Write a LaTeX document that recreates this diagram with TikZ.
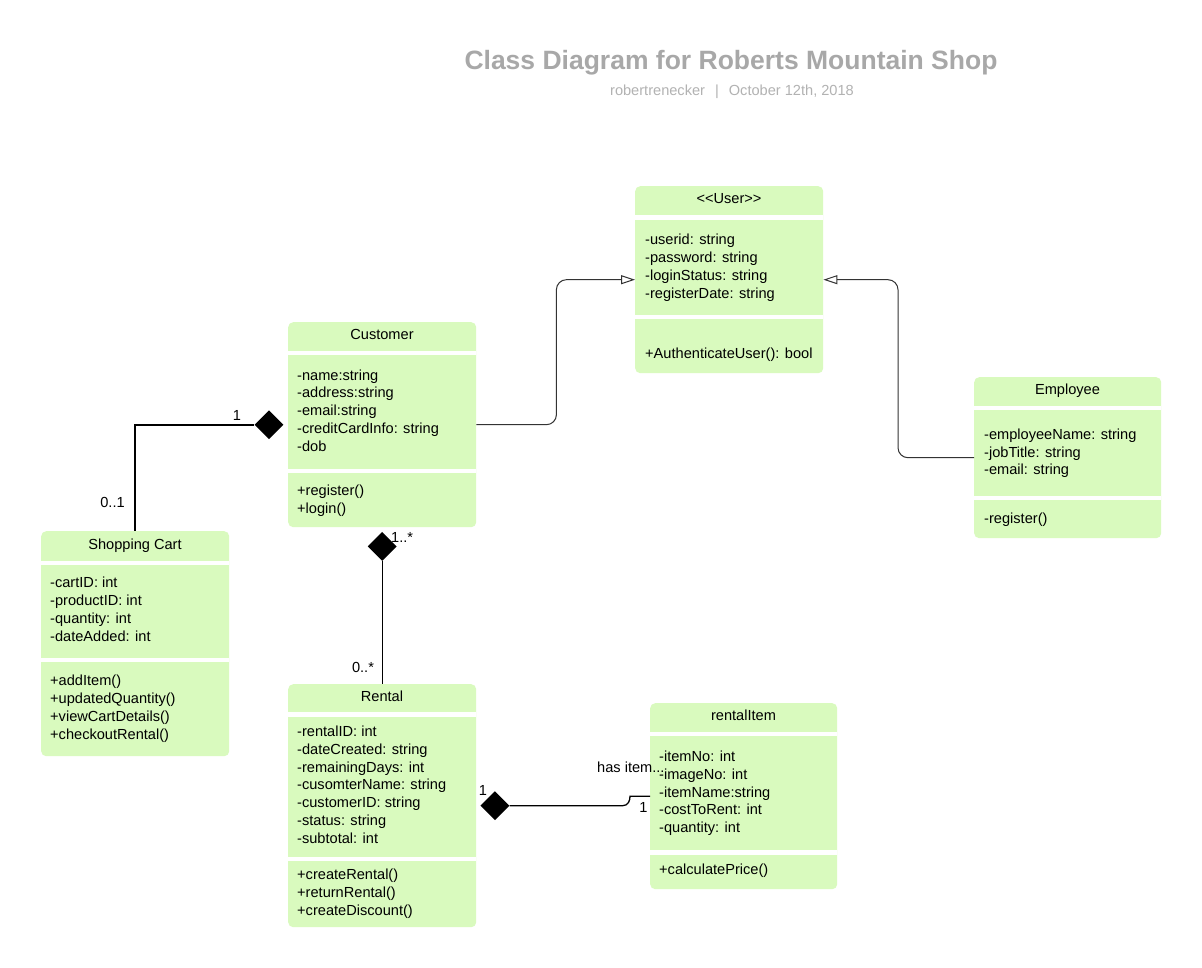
\documentclass[tikz,border=0pt]{standalone}
\usepackage{fontspec}
\setmainfont{Liberation Sans}
\usetikzlibrary{arrows.meta,shapes.geometric,calc}
\definecolor{clsgreen}{RGB}{217,250,190}
\definecolor{titlegray}{RGB}{168,168,168}
\definecolor{subgray}{RGB}{178,178,178}
\definecolor{linegray}{RGB}{51,51,51}
\newcommand\umllines[5]{\foreach \t [count=\i] in {#5}{\node[txt] (#1\i) at (#2,{#3+(\i-1)*#4}) {\t};}}
\begin{document}
\begin{tikzpicture}[x=1pt,y=-1pt,
  cls/.style={fill=clsgreen, draw=none, rounded corners=5pt, anchor=north west, inner sep=0pt},
  sep/.style={fill=white},
  txt/.style={anchor=base west, inner sep=0pt, font=\fontsize{14.6}{17}\selectfont},
  ttl/.style={anchor=base, inner sep=0pt, font=\fontsize{14.6}{17}\selectfont},
  lbl/.style={anchor=base, inner sep=0pt, font=\fontsize{14.6}{17}\selectfont},
  gen/.style={draw=linegray, line width=1pt, rounded corners=10pt, -{Triangle[open, length=14pt, width=9pt, fill=white]}},
  comp/.style={draw=black, line width=1.3pt},
  dia/.style={diamond, fill=black, draw=none, inner sep=0pt, minimum width=29pt, minimum height=29pt, aspect=1}]
\fill[white] (0,0) rectangle (1202,968);
\useasboundingbox (0,0) rectangle (1202,968);

% title
\node[anchor=base, inner sep=0pt, text=titlegray, font=\bfseries\fontsize{26.5}{30}\selectfont] (title) at (731,70) {Class Diagram for Roberts Mountain Shop};
\node[anchor=base, inner sep=0pt, text=subgray, font=\fontsize{14.6}{17}\selectfont] (subtitle) at (732,96) {robertrenecker\hspace{10pt}|\hspace{10pt}October 12th, 2018};

% User
\node[cls, minimum width=188pt, minimum height=187pt] (user) at (635,186) {};
\fill[sep] (635,215) rectangle (823,220);
\fill[sep] (635,315) rectangle (823,319);
\node[ttl] (usert) at (729,204) {<{}<User>{}>};
\umllines{usera}{645}{245}{17.7}{-userid: string,-password: string,-loginStatus: string,-registerDate: string}
\umllines{userm}{645}{358.5}{17.7}{+AuthenticateUser(): bool}

% Customer
\node[cls, minimum width=188pt, minimum height=205pt] (cust) at (288,322) {};
\fill[sep] (288,351) rectangle (476,355);
\fill[sep] (288,469) rectangle (476,473);
\node[ttl] (custt) at (382,339.5) {Customer};
\umllines{custa}{297}{380}{17.9}{-name:string,-address:string,-email:string,-creditCardInfo: string,-dob}
\umllines{custm}{297}{495.5}{17.9}{+register(),+login()}

% Employee
\node[cls, minimum width=187pt, minimum height=161pt] (emp) at (974,377) {};
\fill[sep] (974,406) rectangle (1161,410);
\fill[sep] (974,496) rectangle (1161,500);
\node[ttl] (empt) at (1067.5,394.5) {Employee};
\umllines{empa}{984}{439.5}{17.6}{-employeeName: string,-jobTitle: string,-email: string}
\umllines{empm}{984}{523.5}{17.6}{-register()}

% Shopping Cart
\node[cls, minimum width=188pt, minimum height=225pt] (cart) at (41,531) {};
\fill[sep] (41,561) rectangle (229,565);
\fill[sep] (41,658) rectangle (229,662);
\node[ttl] (cartt) at (135,549.5) {Shopping Cart};
\umllines{carta}{50}{587.5}{18}{-cartID: int,-productID: int,-quantity: int,-dateAdded: int}
\umllines{cartm}{50}{685.5}{18}{+addItem(),+updatedQuantity(),+viewCartDetails(),+checkoutRental()}

% Rental
\node[cls, minimum width=188pt, minimum height=243pt] (rental) at (288,684) {};
\fill[sep] (288,712) rectangle (476,717);
\fill[sep] (288,857) rectangle (476,861);
\node[ttl] (rentalt) at (382,701.5) {Rental};
\umllines{rentala}{297}{736.5}{17.8}{-rentalID: int,-dateCreated: string,-remainingDays: int,-cusomterName: string,-customerID: string,-status: string,-subtotal: int}
\umllines{rentalm}{297}{879.5}{17.8}{+createRental(),+returnRental(),+createDiscount()}

% rentalItem
\node[cls, minimum width=187pt, minimum height=186pt] (ritem) at (650,703) {};
\fill[sep] (650,732) rectangle (837,736);
\fill[sep] (650,850) rectangle (837,855);
\node[ttl] (ritemt) at (743.5,720.5) {rentalItem};
\umllines{ritema}{659}{761.5}{17.8}{-itemNo: int,-imageNo: int,-itemName:string,-costToRent: int,-quantity: int}
\umllines{ritemm}{659}{874.5}{17.8}{+calculatePrice()}

% generalizations
\draw[gen] (cust.east) -- ++(80,0) |- (user.west);
\draw[gen] (emp.west) -- ++(-76,0) |- (user.east);

% composition Customer - Shopping Cart
\node[dia] (d1) at ([xshift=-19pt]cust.west) {};
\draw[comp, line width=1.8pt] (d1.west) -| (cart.north);
\node[lbl] (l1) at (237,420) {1};
\node[lbl] (l2) at (112.5,507) {0..1};

% composition Customer - Rental
\node[dia] (d2) at ([yshift=-19pt]cust.south) {};
\draw[comp] (d2.south) -- (rental.north);
\node[txt] (l3) at (391,542) {1..*};
\node[lbl] (l4) at (363,672) {0..*};

% composition Rental - rentalItem
\node[dia] (d3) at ([xshift=18.5pt]rental.east) {};
\draw[comp] (d3.east) -- ++(113,0) .. controls +(6,0) and +(0,4) .. ($(ritem.west)+(-20,0)$) -- (ritem.west);
\node[lbl] (l5) at (483,795) {1};
\node[lbl] (l6) at (643.5,812) {1};
\node[txt] (l7) at (597,772) {has item...};
\end{tikzpicture}
\end{document}
